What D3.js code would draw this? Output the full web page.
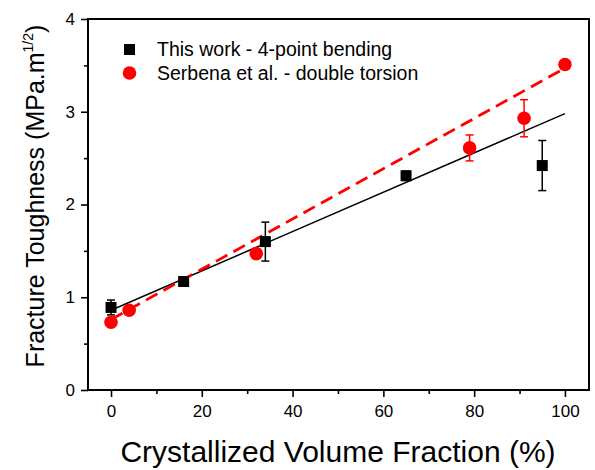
<!DOCTYPE html>
<html>
<head>
<meta charset="utf-8">
<script src="https://cdn.jsdelivr.net/npm/d3@7/dist/d3.min.js"></script>
<style>
  html, body { margin: 0; padding: 0; background: #fff; }
  svg { display: block; font-family: "Liberation Sans", Arial, sans-serif; }
</style>
</head>
<body>
<svg id="chart" width="595" height="470"></svg>
<script>
// Fracture toughness vs crystallized volume fraction
const xTicks = [0, 20, 40, 60, 80, 100];
const yTicks = [0, 1, 2, 3, 4];

// This work - 4-point bending
const bendX   = [0, 16, 34, 65, 95];
const bendY   = [0.89, 1.17, 1.60, 2.31, 2.42];
const bendErr = [0.08, 0.03, 0.21, 0.05, 0.27];

// Serbena et al. - double torsion
const torsX   = [0, 4, 32, 79, 91, 100];
const torsY   = [0.73, 0.86, 1.47, 2.61, 2.93, 3.51];
const torsErr = [0.02, 0.02, 0.02, 0.14, 0.20, 0.02];

// Linear fits (x range, y at ends)
const bendFitX = [0, 100];
const bendFitY = [0.86, 2.98];
const torsFitX = [0, 100];
const torsFitY = [0.76, 3.47];

const legendLabels = ["This work - 4-point bending", "Serbena et al. - double torsion"];

const margin = { left: 88, right: 6, top: 19, bottom: 80 };
const W = 595, H = 470;
const svg = d3.select("#chart");

const x = d3.scaleLinear().domain([-5.07, 105.3]).range([margin.left, W - margin.right]);
const y = d3.scaleLinear().domain([0, 4]).range([H - margin.bottom, margin.top]);

const plotL = margin.left, plotR = W - margin.right, plotT = margin.top, plotB = H - margin.bottom;

// fit lines
const line = d3.line().x(d => x(d[0])).y(d => y(d[1]));
svg.append("path")
  .attr("d", line(d3.zip(bendFitX, bendFitY)))
  .attr("stroke", "#000").attr("stroke-width", 1.5).attr("fill", "none");
svg.append("path")
  .attr("d", line(d3.zip(torsFitX, torsFitY)))
  .attr("stroke", "#f00").attr("stroke-width", 2.8).attr("fill", "none")
  .attr("stroke-dasharray", "13,7");

// error bars
function errorBars(xs, ys, es, color) {
  const g = svg.append("g").attr("stroke", color).attr("stroke-width", 1.5);
  xs.forEach((xv, i) => {
    const cx = x(xv), y0 = y(ys[i] - es[i]), y1 = y(ys[i] + es[i]);
    g.append("line").attr("x1", cx).attr("x2", cx).attr("y1", y0).attr("y2", y1);
    g.append("line").attr("x1", cx - 4).attr("x2", cx + 4).attr("y1", y0).attr("y2", y0);
    g.append("line").attr("x1", cx - 4).attr("x2", cx + 4).attr("y1", y1).attr("y2", y1);
  });
}
errorBars(torsX, torsY, torsErr, "#f00");
errorBars(bendX, bendY, bendErr, "#000");

// markers
svg.append("g").selectAll("circle").data(d3.zip(torsX, torsY)).join("circle")
  .attr("cx", d => x(d[0])).attr("cy", d => y(d[1])).attr("r", 6.8).attr("fill", "#f00");
const sq = 11;
svg.append("g").selectAll("rect").data(d3.zip(bendX, bendY)).join("rect")
  .attr("x", d => x(d[0]) - sq / 2).attr("y", d => y(d[1]) - sq / 2)
  .attr("width", sq).attr("height", sq).attr("fill", "#000");

// axes
const xAxis = d3.axisBottom(x).tickValues(xTicks).tickSize(7).tickPadding(8).tickFormat(d3.format("d"));
const xMinor = d3.axisBottom(x).tickValues([10, 30, 50, 70, 90]).tickSize(4).tickFormat("");
const yAxis = d3.axisLeft(y).tickValues(yTicks).tickSize(7).tickPadding(6).tickFormat(d3.format("d"));
const yMinor = d3.axisLeft(y).tickValues([0.5, 1.5, 2.5, 3.5]).tickSize(4).tickFormat("");

function styleAxis(g) {
  g.select(".domain").remove();
  g.selectAll("line").attr("stroke", "#000").attr("stroke-width", 1.6);
  g.selectAll("text").attr("font-size", 17).attr("fill", "#000")
    .attr("font-family", "'Liberation Sans', Arial, sans-serif");
}
svg.append("g").attr("transform", `translate(0,${plotB})`).call(xAxis).call(styleAxis);
svg.append("g").attr("transform", `translate(0,${plotB})`).call(xMinor).call(styleAxis);
svg.append("g").attr("transform", `translate(${plotL},0)`).call(yAxis).call(styleAxis);
svg.append("g").attr("transform", `translate(${plotL},0)`).call(yMinor).call(styleAxis);

// frame
svg.append("rect").attr("x", plotL).attr("y", plotT)
  .attr("width", plotR - plotL).attr("height", plotB - plotT)
  .attr("fill", "none").attr("stroke", "#000").attr("stroke-width", 2);

// legend
const lg = svg.append("g");
lg.append("rect").attr("x", 124).attr("y", 44).attr("width", 11).attr("height", 11).attr("fill", "#000");
lg.append("circle").attr("cx", 129.5).attr("cy", 73).attr("r", 6.8).attr("fill", "#f00");
lg.selectAll("text").data(legendLabels).join("text")
  .attr("x", 157).attr("y", (d, i) => 56 + i * 23.5)
  .attr("font-size", 19.5).attr("fill", "#000").text(d => d);

// axis titles
svg.append("text").attr("x", 338).attr("y", 462)
  .attr("text-anchor", "middle").attr("font-size", 30).attr("fill", "#000")
  .text("Crystallized Volume Fraction (%)");

const yt = svg.append("text")
  .attr("transform", "translate(44,196) rotate(-90)")
  .attr("text-anchor", "middle").attr("font-size", 25).attr("fill", "#000");
yt.append("tspan").text("Fracture Toughness (MPa.m");
yt.append("tspan").attr("font-size", 14).attr("dy", -11).text("1/2");
yt.append("tspan").attr("dy", 11).text(")");
</script>
</body>
</html>
